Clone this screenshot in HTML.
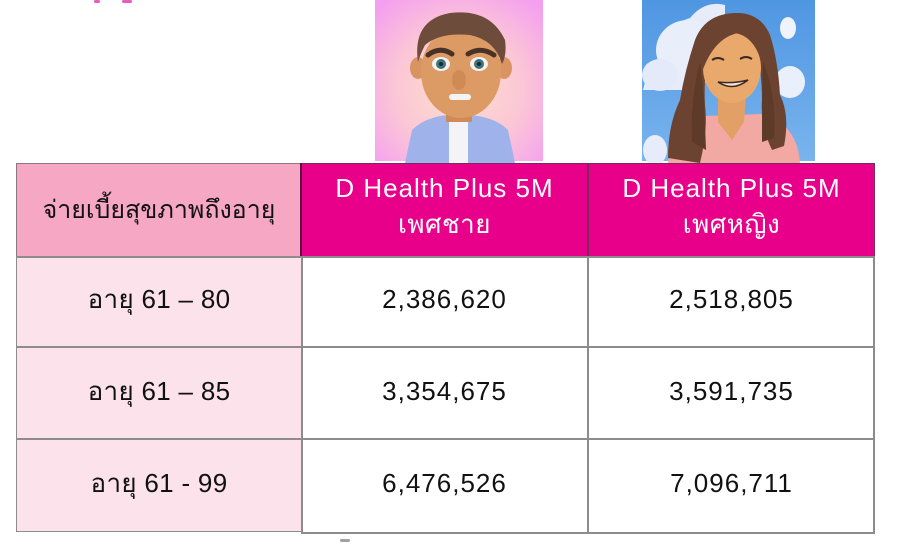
<!DOCTYPE html>
<html>
<head>
<meta charset="utf-8">
<style>
html,body{margin:0;padding:0;background:#fff;}
body{width:900px;height:550px;position:relative;overflow:hidden;font-family:"Liberation Sans","DejaVu Sans",sans-serif;}
.abs{position:absolute;}
.cell{position:absolute;box-sizing:border-box;}
.t{position:absolute;left:0;right:0;text-align:center;height:28px;line-height:28px;white-space:nowrap;}
.num{font-size:26px;letter-spacing:1px;color:#111;}
.hdr{font-size:26px;letter-spacing:1px;color:#fff;}
.lbl{font-size:26px;color:#111;letter-spacing:0.3px;}
</style>
</head>
<body>
<svg class="abs" style="left:0;top:0" width="900" height="550" viewBox="0 0 900 550">
  <defs>
    <radialGradient id="mbg" cx="0.5" cy="0.55" r="0.7">
      <stop offset="0" stop-color="#fde0cc"/>
      <stop offset="0.55" stop-color="#fbc6d6"/>
      <stop offset="1" stop-color="#f49ff0"/>
    </radialGradient>
    <linearGradient id="wbg" x1="0" y1="0" x2="0" y2="1">
      <stop offset="0" stop-color="#4f96e2"/>
      <stop offset="1" stop-color="#7ab4ee"/>
    </linearGradient>
  </defs>
  <rect x="94" y="0" width="6" height="3" rx="1.5" fill="#e65cbc"/>
  <rect x="122" y="0" width="10" height="3" rx="1.5" fill="#e65cbc"/>

  <!-- man avatar -->
  <rect x="375" y="0" width="168" height="163" fill="url(#mbg)"/>
  <rect x="375" y="161" width="168" height="2" fill="#fff"/>
  <path d="M405 163 L412 130 Q425 117 448 115 L470 115 Q495 117 508 130 L515 163 Z" fill="#9fb3ea"/>
  <rect x="449" y="118" width="19" height="45" fill="#f4f4f6"/>
  <rect x="446" y="100" width="26" height="22" fill="#d08a58"/>
  <ellipse cx="418" cy="68" rx="8" ry="11" fill="#d99462"/>
  <ellipse cx="504" cy="68" rx="8" ry="11" fill="#d99462"/>
  <ellipse cx="461" cy="72" rx="40" ry="46" fill="#dc9a64"/>
  <path d="M418 62 Q412 20 450 13 Q490 8 505 40 Q507 55 502 64 Q495 40 470 35 Q440 32 425 45 Q420 55 418 62 Z" fill="#6d4c3c"/>
  <path d="M428 55 Q440 46 452 54" stroke="#4a3128" stroke-width="5" fill="none" stroke-linecap="round"/>
  <path d="M468 54 Q481 46 494 55" stroke="#4a3128" stroke-width="5" fill="none" stroke-linecap="round"/>
  <ellipse cx="441" cy="64" rx="9" ry="7" fill="#f2f2f2"/>
  <ellipse cx="479" cy="64" rx="9" ry="7" fill="#f2f2f2"/>
  <circle cx="441" cy="64" r="5" fill="#3f7178"/>
  <circle cx="479" cy="64" r="5" fill="#3f7178"/>
  <circle cx="441" cy="64" r="2" fill="#1b2a2c"/>
  <circle cx="479" cy="64" r="2" fill="#1b2a2c"/>
  <ellipse cx="459" cy="80" rx="7" ry="10" fill="#d08a56"/>
  <rect x="449" y="94" width="22" height="6" rx="3" fill="#f4f4f4"/>

  <!-- woman avatar -->
  <rect x="642" y="0" width="173" height="163" fill="url(#wbg)"/>
  <rect x="642" y="161" width="173" height="2" fill="#fff"/>
  <path d="M643 90 Q650 60 668 55 Q665 25 690 18 Q705 0 725 5 L725 40 Q715 70 700 90 Z" fill="#e6ecfa"/>
  <ellipse cx="688" cy="50" rx="32" ry="30" fill="#e9eefb"/>
  <ellipse cx="660" cy="75" rx="18" ry="16" fill="#e4eafa"/>
  <ellipse cx="790" cy="82" rx="15" ry="16" fill="#e9effb"/>
  <ellipse cx="788" cy="28" rx="8" ry="11" fill="#eef3fc"/>
  <ellipse cx="655" cy="150" rx="12" ry="15" fill="#e6ecfa"/>
  <path d="M668 163 Q672 125 705 116 L760 114 Q797 122 800 163 Z" fill="#f3a9a3"/>
  <path d="M735 13 Q705 14 695 40 Q685 70 680 100 Q668 125 668 158 L700 163 Q708 130 705 105 Q703 70 712 45 L755 45 Q762 70 762 100 Q760 125 772 150 L784 146 Q790 115 780 95 Q778 60 770 35 Q760 12 735 13 Z" fill="#6b4330"/>
  <path d="M718 96 L746 96 L744 122 L732 140 L718 122 Z" fill="#e3a066"/>
  <ellipse cx="732" cy="68" rx="29" ry="35" fill="#eaa96c"/>
  <path d="M702 72 Q700 25 735 20 Q768 24 764 72 Q758 40 738 33 Q714 38 702 72 Z" fill="#6b4330"/>
  <path d="M700 62 Q690 100 692 142 L706 150 L704 100 Z" fill="#5e3a29"/>
  <path d="M763 62 Q777 95 774 138 L762 142 L762 100 Z" fill="#5e3a29"/>
  <path d="M712 60 Q718 56 724 60" stroke="#3a2a22" stroke-width="2" fill="none"/>
  <path d="M740 59 Q746 55 752 59" stroke="#3a2a22" stroke-width="2" fill="none"/>
  <path d="M718 82 Q733 92 748 80 Q733 84 718 82 Z" fill="#f6e0d8" stroke="#3a2a22" stroke-width="1.5"/>
</svg>

<div class="cell" style="left:16px;top:163px;width:286px;height:94px;background:#f6a7c3;border:1.5px solid #8a7a80;border-right:none;"></div>
<div class="cell" style="left:301px;top:163px;width:574px;height:94px;background:#e8008b;border:1.5px solid #7a2a5a;"></div>
<div class="abs" style="left:300px;top:163px;width:2px;height:94px;background:#5a1040;"></div>
<div class="abs" style="left:587px;top:163px;width:1.5px;height:94px;background:#7a2a5a;"></div>

<div class="cell" style="left:16px;top:256px;width:286px;height:276px;background:#fce3eb;border:1.5px solid #8c8c8c;"></div>
<div class="cell" style="left:301px;top:256px;width:574px;height:278px;background:#fff;border:2px solid #8c8c8c;border-top:none;"></div>
<div class="abs" style="left:587px;top:256px;width:2px;height:277px;background:#8c8c8c;"></div>
<div class="abs" style="left:16px;top:346px;width:859px;height:1.5px;background:#8c8c8c;"></div>
<div class="abs" style="left:16px;top:438px;width:859px;height:1.5px;background:#8c8c8c;"></div>
<div class="abs" style="left:16px;top:256px;width:859px;height:1.5px;background:#8c8c8c;"></div>

<div class="abs" style="left:16px;top:163px;width:286px;height:94px;">
  <div class="t lbl" style="top:33px;font-size:25px;letter-spacing:0;">จ่ายเบี้ยสุขภาพถึงอายุ</div>
</div>
<div class="abs" style="left:301px;top:163px;width:287px;height:94px;">
  <div class="t hdr" style="top:11px;">D Health Plus 5M</div>
  <div class="t hdr" style="top:47px;letter-spacing:0.5px;">เพศชาย</div>
</div>
<div class="abs" style="left:588px;top:163px;width:287px;height:94px;">
  <div class="t hdr" style="top:11px;">D Health Plus 5M</div>
  <div class="t hdr" style="top:47px;letter-spacing:0.5px;">เพศหญิง</div>
</div>

<div class="abs" style="left:16px;top:0;width:286px;height:550px;">
  <div class="t lbl" style="top:285px;">อายุ 61 – 80</div>
  <div class="t lbl" style="top:377px;">อายุ 61 – 85</div>
  <div class="t lbl" style="top:469px;">อายุ 61 - 99</div>
</div>
<div class="abs" style="left:301px;top:0;width:287px;height:550px;">
  <div class="t num" style="top:285px;">2,386,620</div>
  <div class="t num" style="top:377px;">3,354,675</div>
  <div class="t num" style="top:469px;">6,476,526</div>
</div>
<div class="abs" style="left:588px;top:0;width:287px;height:550px;">
  <div class="t num" style="top:285px;">2,518,805</div>
  <div class="t num" style="top:377px;">3,591,735</div>
  <div class="t num" style="top:469px;">7,096,711</div>
</div>

<div class="abs" style="left:340px;top:539px;width:10px;height:3px;background:#444;border-radius:2px;opacity:0.5;"></div>
</body>
</html>
